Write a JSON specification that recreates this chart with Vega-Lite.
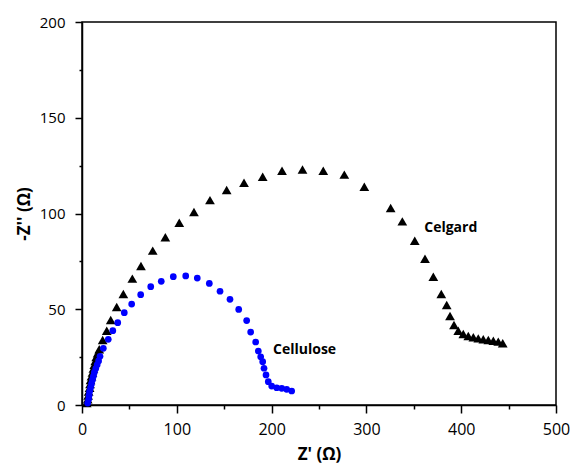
{
  "$schema": "https://vega.github.io/schema/vega-lite/v6.json",
  "width": 474,
  "height": 383,
  "autosize": "none",
  "padding": {"left": 82, "top": 22, "right": 15, "bottom": 59},
  "background": "white",
  "config": {
    "view": {"stroke": "black", "strokeWidth": 1.5},
    "font": "Open Sans"
  },
  "datasets": {
    "celgard": [
      {"x": 5, "y": 1}, {"x": 6, "y": 3}, {"x": 6.5, "y": 5}, {"x": 7, "y": 7}, {"x": 8, "y": 9},
      {"x": 8.5, "y": 11}, {"x": 9, "y": 13}, {"x": 10, "y": 15}, {"x": 11, "y": 17}, {"x": 12, "y": 19},
      {"x": 13, "y": 21}, {"x": 14, "y": 23}, {"x": 15, "y": 25}, {"x": 16.5, "y": 27},
      {"x": 18.2, "y": 29.1}, {"x": 21.8, "y": 33.9}, {"x": 26.1, "y": 38.8}, {"x": 30.3, "y": 44.4},
      {"x": 36.6, "y": 51.2}, {"x": 43.6, "y": 58.0}, {"x": 53.1, "y": 66.0}, {"x": 62.2, "y": 72.6},
      {"x": 74.6, "y": 80.6}, {"x": 87.9, "y": 87.6}, {"x": 102.6, "y": 95.2}, {"x": 118.1, "y": 100.8},
      {"x": 135.0, "y": 107.0}, {"x": 152.6, "y": 112.3}, {"x": 170.9, "y": 116.1}, {"x": 190.6, "y": 119.2},
      {"x": 211.0, "y": 122.3}, {"x": 232.6, "y": 123.0}, {"x": 254.5, "y": 122.3}, {"x": 276.7, "y": 120.3},
      {"x": 297.8, "y": 114.0}, {"x": 325.6, "y": 102.9}, {"x": 337.9, "y": 95.9}, {"x": 351.0, "y": 85.8},
      {"x": 361.8, "y": 76.4}, {"x": 370.6, "y": 67.0}, {"x": 379.0, "y": 58.0}, {"x": 384.7, "y": 52.2},
      {"x": 388.2, "y": 46.5}, {"x": 392.4, "y": 41.8}, {"x": 396.9, "y": 38.8}, {"x": 402.2, "y": 37.1},
      {"x": 407.5, "y": 36.0}, {"x": 412.8, "y": 35.4}, {"x": 418.0, "y": 34.8}, {"x": 423.3, "y": 34.3},
      {"x": 428.6, "y": 33.9}, {"x": 433.9, "y": 33.6}, {"x": 439.1, "y": 33.1}, {"x": 443.8, "y": 32.2}
    ],
    "cellulose": [
      {"x": 6, "y": 1}, {"x": 7, "y": 3}, {"x": 7.5, "y": 5}, {"x": 8, "y": 7}, {"x": 9, "y": 9},
      {"x": 10, "y": 11}, {"x": 11, "y": 13}, {"x": 12, "y": 15}, {"x": 13, "y": 17}, {"x": 14.5, "y": 19},
      {"x": 16, "y": 21}, {"x": 17.5, "y": 23}, {"x": 19.0, "y": 25.4}, {"x": 22.5, "y": 29.6},
      {"x": 27.7, "y": 34.3}, {"x": 32.5, "y": 38.8}, {"x": 37.7, "y": 43.0}, {"x": 44.6, "y": 48.2},
      {"x": 52.4, "y": 52.7}, {"x": 61.9, "y": 57.6}, {"x": 72.5, "y": 61.8}, {"x": 83.6, "y": 64.6},
      {"x": 96.3, "y": 67.0}, {"x": 109.4, "y": 67.4}, {"x": 121.6, "y": 66.3}, {"x": 134.3, "y": 63.5},
      {"x": 145.6, "y": 59.4}, {"x": 156.1, "y": 55.2}, {"x": 165.3, "y": 49.9}, {"x": 173.7, "y": 44.1},
      {"x": 177.9, "y": 38.1}, {"x": 183.2, "y": 32.9}, {"x": 186.0, "y": 28.2}, {"x": 188.5, "y": 25.2},
      {"x": 190.6, "y": 22.6}, {"x": 192.0, "y": 19.2}, {"x": 194.1, "y": 15.7}, {"x": 196.5, "y": 12.2},
      {"x": 200.1, "y": 9.9}, {"x": 205.4, "y": 9.0}, {"x": 210.7, "y": 8.7}, {"x": 215.9, "y": 8.2},
      {"x": 221.2, "y": 7.3}
    ],
    "labels": [
      {"x": 361, "y": 92.4, "text": "Celgard"},
      {"x": 201.5, "y": 28.7, "text": "Cellulose"}
    ]
  },
  "encoding": {
    "x": {
      "field": "x", "type": "quantitative",
      "scale": {"domain": [0, 500], "nice": false, "zero": false},
      "axis": {
        "title": "Z' (Ω)", "titleFontSize": 17, "titleFontWeight": "bold", "titleColor": "black",
        "titlePadding": 9,
        "values": [0, 50, 100, 150, 200, 250, 300, 350, 400, 450, 500],
        "labelExpr": "datum.value % 100 == 0 ? datum.label : ''",
        "labelFontSize": 16, "labelColor": "black", "labelPadding": 8,
        "ticks": true,
        "tickSize": {"condition": {"test": "datum.value % 100 == 0", "value": 8}, "value": 4},
        "tickColor": "black", "tickWidth": 1.5,
        "domainColor": "black", "domainWidth": 1.5, "grid": false, "labelFlush": false
      }
    },
    "y": {
      "field": "y", "type": "quantitative",
      "scale": {"domain": [0, 200], "nice": false, "zero": false},
      "axis": {
        "title": "-Z'' (Ω)", "titleFontSize": 17, "titleFontWeight": "bold", "titleColor": "black",
        "titlePadding": 6,
        "values": [0, 25, 50, 75, 100, 125, 150, 175, 200],
        "labelExpr": "datum.value % 50 == 0 ? datum.label : ''",
        "labelFontSize": 15, "labelColor": "black", "labelPadding": 10,
        "ticks": true,
        "tickSize": {"condition": {"test": "datum.value % 50 == 0", "value": 7}, "value": 3},
        "tickColor": "black", "tickWidth": 1.5,
        "domainColor": "black", "domainWidth": 1.5, "grid": false, "labelFlush": false
      }
    }
  },
  "layer": [
    {
      "data": {"name": "celgard"},
      "mark": {"type": "point", "shape": "triangle-up", "filled": true, "color": "black", "size": 95, "opacity": 1}
    },
    {
      "data": {"name": "cellulose"},
      "mark": {"type": "point", "shape": "circle", "filled": true, "color": "#0000ff", "size": 45, "opacity": 1}
    },
    {
      "data": {"name": "labels"},
      "mark": {"type": "text", "align": "left", "baseline": "middle", "fontSize": 14, "fontWeight": "bold", "color": "black"},
      "encoding": {"text": {"field": "text", "type": "nominal"}}
    }
  ]
}
